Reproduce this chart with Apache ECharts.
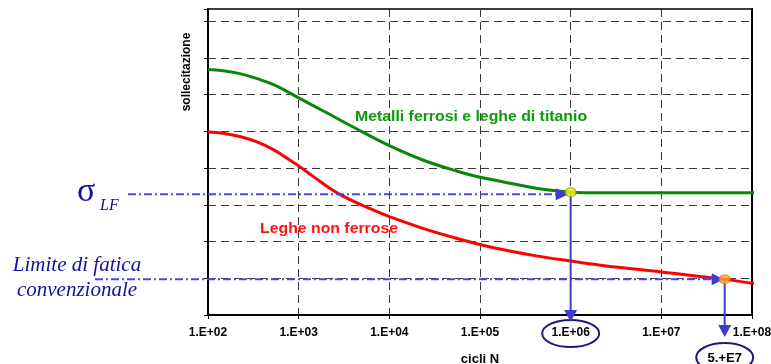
<!DOCTYPE html>
<html>
<head>
<meta charset="utf-8">
<script src="https://cdn.jsdelivr.net/npm/echarts@6/dist/echarts.min.js"></script>
<style>
  html, body { margin: 0; padding: 0; background: #ffffff; }
  #chart { width: 771px; height: 364px; }
</style>
</head>
<body>
<div id="chart"></div>
<script>
// Wöhler (S-N) curves: stress vs. number of cycles on a log scale
const X_MIN = 1e2;
const X_MAX = 1e8;
const Y_MAX = 8.33;

// Ferrous metals and titanium alloys (with a true fatigue limit)
const GREEN_CYCLES = [100, 146, 224, 341, 567, 1000, 1850, 4330, 1e4, 2.34e4, 5.5e4, 1e5, 1.78e5, 4.17e5, 6.9e5, 1e6, 1.4e6, 1.15e8];
const GREEN_STRESS = [6.68, 6.65, 6.57, 6.44, 6.24, 5.91, 5.56, 5.07, 4.61, 4.22, 3.92, 3.75, 3.63, 3.45, 3.38, 3.34, 3.33, 3.33];

// Non-ferrous alloys (no asymptote, conventional limit)
const RED_CYCLES = [100, 146, 224, 341, 520, 794, 1000, 1430, 2810, 6610, 1e4, 2.34e4, 5.5e4, 1.26e5, 4.17e5, 1e6, 2.24e6, 1e7, 5e7, 1.15e8];
const RED_STRESS = [4.98, 4.95, 4.86, 4.72, 4.51, 4.22, 4.06, 3.78, 3.29, 2.86, 2.68, 2.36, 2.09, 1.86, 1.61, 1.47, 1.35, 1.17, 0.97, 0.84];

// Highlighted points and reference levels
const KNEE_POINT = [1e6, 3.34];
const CONV_POINT = [5e7, 0.97];
const SIGMA_LF_LEVEL = 3.29;
const CONV_LIMIT_LEVEL = 0.97;
const CONV_LABEL = '5.+E7';

const GREEN_NAME = 'Metalli ferrosi e leghe di titanio';
const RED_NAME = 'Leghe non ferrose';
const Y_NAME = 'sollecitazione';
const X_NAME = 'cicli N';

const zip = (xs, ys) => xs.map((x, i) => [x, ys[i]]);
const SANS = '"Liberation Sans", Arial, sans-serif';
const SERIF = '"Liberation Serif", "Times New Roman", serif';

const chart = echarts.init(document.getElementById('chart'), null, { renderer: 'canvas' });

const gridDash = { color: '#3a3a3a', width: 1, type: [8, 5] };

chart.setOption({
  animation: false,
  backgroundColor: '#ffffff',
  grid: {
    left: 208, right: 19, top: 9, bottom: 49,
    outerBoundsMode: 'none', containLabel: false,
    show: true, borderColor: '#3a3a3a', borderWidth: 2, backgroundColor: 'transparent'
  },
  xAxis: {
    type: 'log', logBase: 10, min: X_MIN, max: X_MAX,
    name: X_NAME, nameLocation: 'middle', nameGap: 38,
    nameTextStyle: { fontFamily: SANS, fontWeight: 'bold', fontSize: 13, color: '#000' },
    axisLine: { show: true, onZero: false, lineStyle: { color: '#000', width: 2 } },
    axisTick: { show: true, length: 4, lineStyle: { color: '#000', width: 1 } },
    axisLabel: {
      margin: 12, fontFamily: SANS, fontWeight: 'bold', fontSize: 12, color: '#000',
      hideOverlap: false,
      formatter: v => '1.E+' + String(Math.round(Math.log10(v))).padStart(2, '0')
    },
    splitLine: { show: true, lineStyle: gridDash },
    minorTick: { show: false }
  },
  yAxis: [{
    type: 'value', min: 0, max: Y_MAX, interval: 1,
    axisLine: { show: true, onZero: false, lineStyle: { color: '#000', width: 2 } },
    axisTick: { show: true, length: 4, lineStyle: { color: '#000', width: 1 } },
    axisLabel: { show: false },
    splitLine: { show: true, lineStyle: gridDash }
  }, {
    type: 'value', min: 0, max: Y_MAX, position: 'right',
    axisLine: { show: true, onZero: false, lineStyle: { color: '#000', width: 2 } },
    axisTick: { show: false }, axisLabel: { show: false }, splitLine: { show: false }
  }],
  series: [{
    name: GREEN_NAME, type: 'line', data: zip(GREEN_CYCLES, GREEN_STRESS),
    smooth: 0.4, showSymbol: false, clip: false, z: 3,
    lineStyle: { color: '#0a860a', width: 3 }
  }, {
    name: RED_NAME, type: 'line', data: zip(RED_CYCLES, RED_STRESS),
    smooth: 0.4, showSymbol: false, clip: false, z: 3,
    lineStyle: { color: '#ff0000', width: 3 }
  }, {
    type: 'scatter', data: [KNEE_POINT], symbol: 'circle', symbolSize: [11, 9], z: 10,
    itemStyle: { color: '#f2f200', borderColor: '#7a9a00', borderWidth: 1 }
  }, {
    type: 'scatter', data: [CONV_POINT], symbol: 'circle', symbolSize: [11, 9], z: 10,
    itemStyle: { color: '#ffa428', borderColor: '#e86a00', borderWidth: 1 }
  }]
});

// Reference lines, arrows and labels placed from the axis scales
const px = p => chart.convertToPixel({ gridIndex: 0 }, p);
const knee = px(KNEE_POINT);
const conv = px(CONV_POINT);
const sigmaY = px([X_MIN, SIGMA_LF_LEVEL])[1];
const convY = px([X_MIN, CONV_LIMIT_LEVEL])[1];

const DASHDOT = '#4848e4';
const ARROW = '#3c3cd0';
const NAVY = '#12129a';
const RING = '#1c1c78';

function headRight(tipX, y, len, half) {
  return { type: 'polygon', z: 6, shape: { points: [[tipX, y], [tipX - len, y - half], [tipX - len, y + half]] }, style: { fill: ARROW } };
}
function headDown(x, tipY, len, half) {
  return { type: 'polygon', z: 6, shape: { points: [[x, tipY], [x - half, tipY - len], [x + half, tipY - len]] }, style: { fill: ARROW } };
}

const kneeTipY = 322;
const convTipY = 337;

chart.setOption({
  graphic: [
    // horizontal dash-dot guides
    { type: 'line', z: 5, shape: { x1: 128, y1: sigmaY, x2: knee[0] - 12, y2: sigmaY },
      style: { stroke: DASHDOT, lineWidth: 2, lineDash: [8, 3, 2, 3] } },
    headRight(knee[0] - 2, sigmaY, 13, 6),
    { type: 'line', z: 5, shape: { x1: 95, y1: convY, x2: conv[0] - 10, y2: convY },
      style: { stroke: DASHDOT, lineWidth: 2, lineDash: [8, 3, 2, 3] } },
    headRight(conv[0] - 1, convY, 12, 6),
    // vertical arrows down to the cycle values
    { type: 'line', z: 5, shape: { x1: knee[0], y1: knee[1], x2: knee[0], y2: kneeTipY - 11 },
      style: { stroke: ARROW, lineWidth: 2 } },
    headDown(knee[0], kneeTipY, 12, 6.5),
    { type: 'line', z: 5, shape: { x1: conv[0], y1: conv[1], x2: conv[0], y2: convTipY - 11 },
      style: { stroke: ARROW, lineWidth: 2 } },
    headDown(conv[0], convTipY, 12, 6.5),
    // rings round the cycle values
    { type: 'ellipse', z: 5, shape: { cx: knee[0], cy: 333.5, rx: 28.5, ry: 13.5 },
      style: { fill: 'rgba(0,0,0,0)', stroke: RING, lineWidth: 2 } },
    { type: 'ellipse', z: 5, shape: { cx: conv[0], cy: 357.5, rx: 28.5, ry: 14.5 },
      style: { fill: 'rgba(0,0,0,0)', stroke: RING, lineWidth: 2 } },
    { type: 'text', z: 6, style: { x: conv[0], y: 358, text: CONV_LABEL, textAlign: 'center', textVerticalAlign: 'middle',
      font: 'bold 13px ' + SANS, fill: '#000' } },
    // curve labels
    { type: 'text', z: 6, x: 355, y: 117, scaleX: 1.13,
      style: { x: 0, y: 0, text: GREEN_NAME, textAlign: 'left', textVerticalAlign: 'middle', font: 'bold 14px ' + SANS, fill: '#0c9a0c' } },
    { type: 'text', z: 6, x: 260, y: 229, scaleX: 1.13,
      style: { x: 0, y: 0, text: RED_NAME, textAlign: 'left', textVerticalAlign: 'middle', font: 'bold 14px ' + SANS, fill: '#ff1414' } },
    // vertical axis title
    { type: 'text', z: 6, x: 187, y: 72, rotation: Math.PI / 2,
      style: { x: 0, y: 0, text: Y_NAME, textAlign: 'center', textVerticalAlign: 'middle', font: 'bold 12px ' + SANS, fill: '#000' } },
    // fatigue-limit symbols on the left
    { type: 'text', z: 6, style: { x: 77, y: 192, text: 'σ', textAlign: 'left', textVerticalAlign: 'middle', font: '34px ' + SERIF, fill: NAVY } },
    { type: 'text', z: 6, style: { x: 100, y: 206, text: 'LF', textAlign: 'left', textVerticalAlign: 'middle', font: 'italic 16px ' + SERIF, fill: NAVY } },
    { type: 'text', z: 6, style: { x: 77, y: 265, text: 'Limite di fatica', textAlign: 'center', textVerticalAlign: 'middle', font: 'italic 21px ' + SERIF, fill: NAVY } },
    { type: 'text', z: 6, style: { x: 77, y: 290, text: 'convenzionale', textAlign: 'center', textVerticalAlign: 'middle', font: 'italic 21px ' + SERIF, fill: NAVY } }
  ]
});
</script>
</body>
</html>
